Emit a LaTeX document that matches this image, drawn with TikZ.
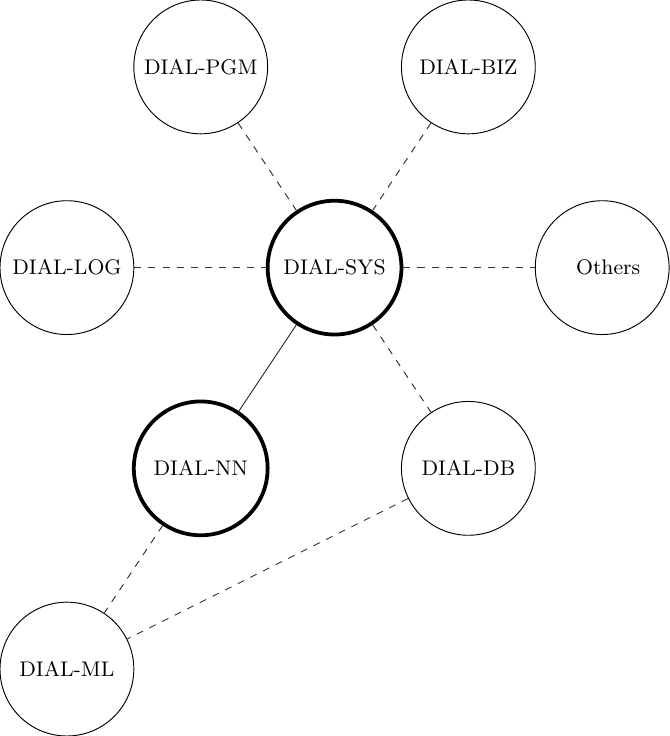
\documentclass[tikz,border=0pt]{standalone}
\usepackage{tikz}
\usetikzlibrary{positioning}

\begin{document}
\begin{tikzpicture}[
  proj/.style={draw, circle, minimum size=2cm, inner sep=0pt, font=\small},
  core/.style={proj, ultra thick},
  link/.style={dashed, black!80},
  tie/.style={black!80}
]
  \useasboundingbox (0,0) rectangle (10,11);

  \node[proj] (pgm) at (3,10) {DIAL-PGM};
  \node[proj] (biz) at (7,10) {DIAL-BIZ};
  \node[proj] (log) at (1,7) {DIAL-LOG};
  \node[core] (sys) at (5,7) {DIAL-SYS};
  \node[proj] (oth) at (9,7) {\hspace*{0.18cm}Others};
  \node[core] (nn) at (3,4) {DIAL-NN};
  \node[proj] (db) at (7,4) {DIAL-DB};
  \node[proj] (ml) at (1,1) {DIAL-ML};

  \draw[link] (pgm) -- (sys);
  \draw[link] (biz) -- (sys);
  \draw[link] (log) -- (sys);
  \draw[link] (sys) -- (oth);
  \draw[link] (sys) -- (db);
  \draw[tie] (sys) -- (nn);
  \draw[link] (nn) -- (ml);
  \draw[link] (db) -- (ml);
\end{tikzpicture}
\end{document}
